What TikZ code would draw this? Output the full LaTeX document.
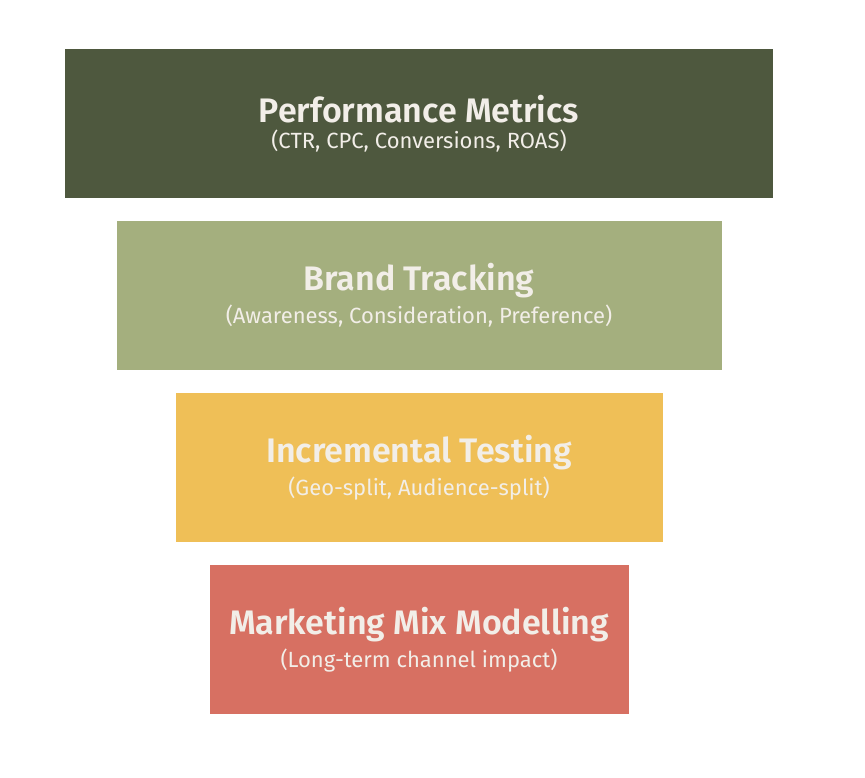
\documentclass[tikz,border=0pt]{standalone}
\usepackage{fontspec}
\setmainfont{Fira Sans}[BoldFont={Fira Sans SemiBold}]
\usepackage{tikz}
\usetikzlibrary{positioning}
\definecolor{perfcol}{HTML}{4E583E}
\definecolor{brandcol}{HTML}{A4AF7E}
\definecolor{testcol}{HTML}{EFBF57}
\definecolor{mmmcol}{HTML}{D77062}
\definecolor{txtcol}{HTML}{F2EEE8}
\newcommand{\layertitle}[1]{{\fontsize{34}{38}\selectfont\bfseries #1}}
\newcommand{\layersub}[1]{{\fontsize{22}{25}\selectfont #1}}

\begin{document}
\begin{tikzpicture}[x=1pt,y=1pt,
		layer/.style={shape=rectangle,inner sep=0pt,minimum height=149.5pt,
			text=txtcol,align=center},
		node distance=22pt]
		\useasboundingbox (0,0) rectangle (865,778);
		\node(perf) [layer,fill=perfcol,minimum width=708pt] at (419,654.25)
			{\layertitle{Performance Metrics}\\[6pt]\layersub{(CTR, CPC, Conversions, ROAS)}};
		\node(brand) [layer,fill=brandcol,minimum width=605pt,below=of perf]
			{\layertitle{Brand Tracking}\\[6pt]\layersub{(Awareness, Consideration, Preference)}};
		\node(test) [layer,fill=testcol,minimum width=487pt,below=of brand]
			{\layertitle{Incremental Testing}\\[6pt]\layersub{(Geo-split, Audience-split)}};
		\node(mmm) [layer,fill=mmmcol,minimum width=419pt,below=of test]
			{\layertitle{Marketing Mix Modelling}\\[6pt]\layersub{(Long-term channel impact)}};
	\end{tikzpicture}
\end{document}
